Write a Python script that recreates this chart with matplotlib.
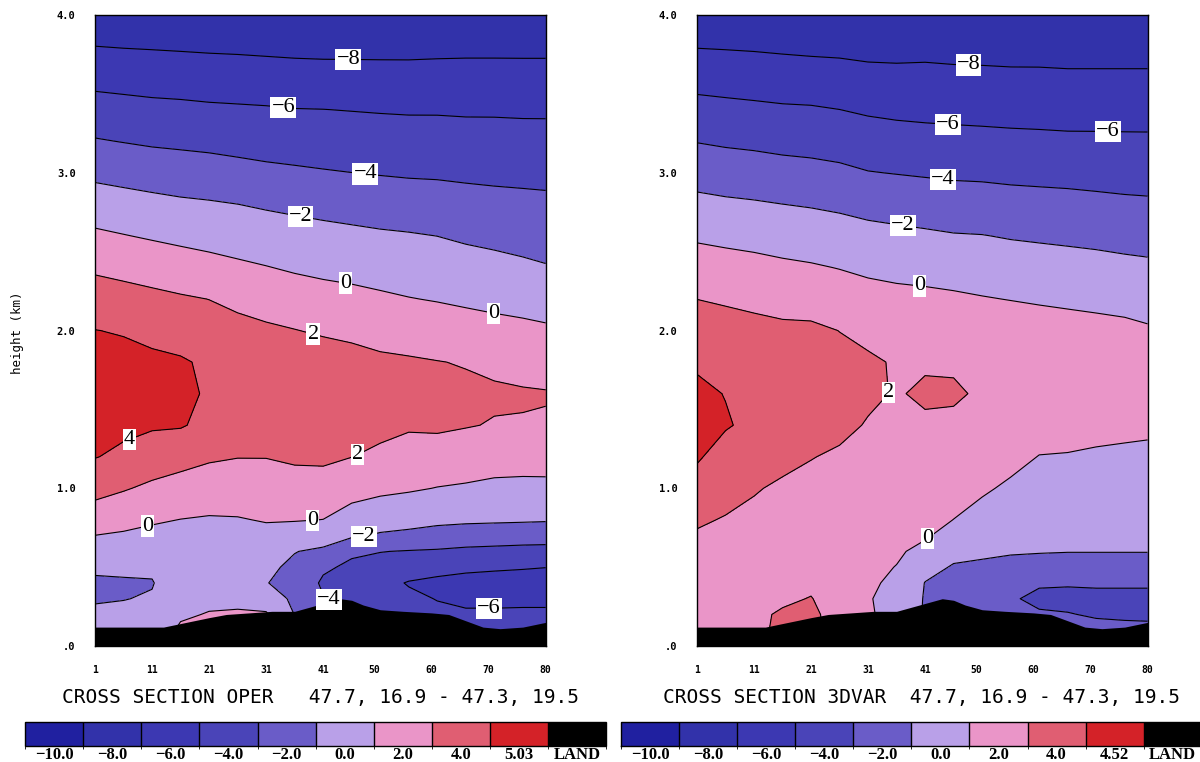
import numpy as np
import matplotlib
matplotlib.use('Agg')
import matplotlib.pyplot as plt
from matplotlib.colors import ListedColormap, BoundaryNorm
from matplotlib.cm import ScalarMappable

# grid of the cross section (grid point index, height in km)
cols = [1, 6, 11, 16, 21, 26, 31, 36, 41, 46, 51, 56, 61, 66, 71, 76, 80]
heights = [0.0, 0.1, 0.2, 0.3, 0.4, 0.5, 0.6, 0.7, 0.8, 1.0, 1.2, 1.4, 1.6,
           1.8, 2.0, 2.2, 2.4, 2.6, 2.8, 3.0, 3.2, 3.4, 3.6, 3.8, 4.0]

# terrain (LAND)
terrain_cols = [1, 8, 13, 17, 21, 24, 28, 32, 36, 39, 42, 44, 46, 48, 51,
                55, 60, 63, 66, 69, 72, 76, 80]
terrain_km = [0.12, 0.12, 0.12, 0.15, 0.18, 0.20, 0.21, 0.22, 0.22, 0.25,
              0.28, 0.30, 0.29, 0.26, 0.23, 0.22, 0.21, 0.20, 0.16, 0.12,
              0.11, 0.12, 0.15]

# field values, one vertical profile per grid column (bottom -> top)
oper_profiles = [
    [-1.0, -1.3, -1.7, -2.15, -2.3, -1.67, -0.83, -0.02, 0.95, 2.64, 4.07, 4.7, 5.03, 4.7, 4.03, 2.91, 1.72, 0.34, -1.03, -2.43, -3.86, -5.2, -6.57, -7.98, -9.4],
    [-1.0, -1.2, -1.6, -2.05, -2.2, -1.64, -0.93, -0.21, 0.56, 2.15, 3.63, 4.4, 4.8, 4.5, 3.88, 2.71, 1.45, 0.07, -1.27, -2.64, -4.06, -5.35, -6.69, -8.07, -9.5],
    [-1.0, -1.2, -1.5, -1.85, -2.1, -1.7, -1.07, -0.44, 0.21, 1.64, 3.07, 4.2, 4.5, 4.3, 3.6, 2.46, 1.17, -0.19, -1.48, -2.86, -4.25, -5.5, -6.8, -8.13, -9.5],
    [0.6, 0.3, -0.25, -0.6, -0.8, -0.85, -0.6, -0.3, -0.03, 1.31, 2.63, 4.15, 4.3, 4.2, 3.17, 2.2, 0.9, -0.44, -1.69, -3.03, -4.36, -5.58, -6.87, -8.2, -9.5],
    [0.8, 0.6, 0.1, -0.4, -0.6, -0.7, -0.6, -0.4, -0.15, 0.97, 2.25, 3.5, 3.85, 3.7, 2.8, 1.98, 0.62, -0.65, -1.82, -3.17, -4.48, -5.7, -6.97, -8.27, -9.6],
    [0.8, 0.7, 0.25, -0.5, -0.75, -0.8, -0.65, -0.4, -0.1, 0.94, 2.05, 2.9, 3.35, 3.2, 2.5, 1.61, 0.32, -0.86, -1.99, -3.38, -4.63, -5.77, -7.03, -8.32, -9.6],
    [0.7, 0.6, 0.2, -0.9, -1.95, -1.7, -1.1, -0.45, 0.1, 1.07, 2.05, 2.85, 3.3, 3.1, 2.28, 1.24, 0.06, -1.06, -2.21, -3.59, -4.76, -5.84, -7.1, -8.4, -9.7],
    [-1.8, -1.9, -2.05, -2.4, -2.5, -2.3, -1.95, -0.92, 0.1, 1.17, 2.3, 2.9, 3.25, 3.0, 2.05, 0.91, -0.21, -1.26, -2.4, -3.73, -4.86, -5.95, -7.19, -8.47, -9.7],
    [-3.5, -3.6, -3.7, -3.9, -4.3, -3.7, -2.3, -1.2, -0.02, 1.18, 2.35, 2.9, 3.2, 2.9, 1.78, 0.67, -0.41, -1.44, -2.58, -3.87, -4.95, -5.98, -7.25, -8.5, -9.7],
    [-4.4, -4.4, -4.4, -4.4, -4.4, -4.35, -3.7, -1.75, -0.8, 0.71, 2.02, 2.65, 2.95, 2.6, 1.61, 0.5, -0.56, -1.59, -2.75, -3.99, -5.03, -6.05, -7.27, -8.5, -9.7],
    [-4.8, -4.9, -5.0, -5.3, -5.5, -4.7, -3.95, -2.2, -1.2, 0.4, 1.7, 2.4, 2.65, 2.3, 1.39, 0.28, -0.75, -1.75, -2.91, -4.1, -5.1, -6.12, -7.3, -8.5, -9.7],
    [-5.0, -5.1, -5.3, -5.7, -6.1, -5.2, -4.1, -2.4, -1.4, 0.2, 1.3, 2.2, 2.5, 2.2, 1.17, 0.06, -0.9, -1.86, -3.03, -4.2, -5.17, -6.17, -7.31, -8.5, -9.7],
    [-5.2, -5.4, -5.7, -6.05, -6.4, -5.4, -4.2, -2.7, -1.6, -0.05, 1.15, 2.3, 2.5, 2.05, 0.97, -0.1, -1.05, -2.01, -3.14, -4.24, -5.19, -6.17, -7.28, -8.45, -9.6],
    [-5.5, -5.7, -5.8, -6.3, -6.5, -5.7, -4.4, -2.9, -1.7, -0.2, 1.0, 2.1, 2.35, 1.9, 0.76, -0.29, -1.27, -2.26, -3.32, -4.33, -5.26, -6.22, -7.3, -8.4, -9.6],
    [-5.5, -5.6, -5.8, -6.3, -6.6, -5.8, -4.5, -3.0, -1.75, -0.4, 0.8, 1.9, 2.25, 1.63, 0.58, -0.48, -1.45, -2.45, -3.45, -4.4, -5.29, -6.22, -7.3, -8.4, -9.6],
    [-5.5, -5.6, -5.8, -6.25, -6.6, -5.9, -4.6, -3.1, -1.8, -0.45, 0.75, 1.9, 2.15, 1.44, 0.41, -0.63, -1.68, -2.64, -3.55, -4.44, -5.33, -6.26, -7.32, -8.4, -9.6],
    [-5.5, -5.6, -5.8, -6.25, -6.6, -5.98, -4.6, -3.2, -1.85, -0.4, 0.7, 1.85, 2.1, 1.28, 0.26, -0.81, -1.89, -2.77, -3.62, -4.48, -5.35, -6.26, -7.32, -8.4, -9.6],
]

var_profiles = [
    [1.0, 1.05, 1.1, 1.2, 1.3, 1.45, 1.6, 1.85, 2.2, 3.3, 4.2, 4.52, 4.35, 3.78, 2.89, 1.99, 0.89, -0.25, -1.5, -2.77, -4.06, -5.35, -6.69, -8.07, -9.5],
    [1.0, 1.05, 1.1, 1.2, 1.3, 1.4, 1.5, 1.65, 1.9, 2.57, 3.29, 4.15, 3.95, 3.25, 2.58, 1.83, 0.72, -0.44, -1.69, -2.97, -4.25, -5.5, -6.8, -8.13, -9.5],
    [1.5, 1.6, 1.75, 1.6, 1.5, 1.45, 1.45, 1.55, 1.7, 2.1, 3.0, 3.6, 3.5, 3.0, 2.41, 1.67, 0.56, -0.61, -1.82, -3.1, -4.38, -5.63, -6.9, -8.2, -9.5],
    [2.4, 2.35, 2.15, 1.8, 1.55, 1.45, 1.4, 1.45, 1.5, 1.8, 2.35, 3.0, 3.2, 2.8, 2.28, 1.49, 0.34, -0.82, -1.99, -3.29, -4.55, -5.76, -7.03, -8.3, -9.6],
    [2.4, 2.4, 2.3, 2.05, 1.75, 1.4, 1.35, 1.35, 1.4, 1.6, 2.05, 2.7, 2.85, 2.5, 2.3, 1.31, 0.17, -0.97, -2.13, -3.42, -4.65, -5.82, -7.1, -8.4, -9.6],
    [1.4, 1.4, 1.4, 1.35, 1.3, 1.3, 1.3, 1.3, 1.35, 1.5, 1.8, 2.35, 2.6, 2.4, 1.98, 0.97, -0.06, -1.17, -2.32, -3.61, -4.82, -5.99, -7.21, -8.45, -9.7],
    [0.4, 0.3, 0.15, 0.08, 0.2, 0.45, 0.7, 0.9, 1.05, 1.35, 1.6, 1.9, 2.25, 2.25, 1.55, 0.64, -0.32, -1.41, -2.6, -3.93, -5.09, -6.23, -7.37, -8.6, -9.8],
    [-0.5, -0.5, -0.45, -0.4, -0.25, -0.05, 0.25, 0.5, 0.75, 1.15, 1.45, 1.7, 1.9, 1.85, 1.35, 0.48, -0.49, -1.57, -2.77, -4.06, -5.24, -6.38, -7.46, -8.6, -9.8],
    [-2.2, -2.2, -2.2, -2.15, -2.05, -1.4, -0.5, 0.2, 0.6, 1.1, 1.5, 1.8, 2.2, 1.85, 1.3, 0.4, -0.61, -1.72, -2.94, -4.18, -5.35, -6.46, -7.49, -8.5, -9.7],
    [-2.8, -2.8, -2.7, -2.6, -2.45, -2.15, -1.5, -0.7, -0.02, 0.8, 1.3, 1.7, 2.2, 1.8, 1.2, 0.28, -0.78, -1.89, -3.09, -4.29, -5.43, -6.51, -7.54, -8.6, -9.7],
    [-3.0, -3.0, -2.9, -2.8, -2.6, -2.25, -1.75, -1.2, -0.65, 0.25, 0.9, 1.45, 1.8, 1.7, 1.1, 0.1, -0.92, -1.95, -3.15, -4.34, -5.49, -6.56, -7.59, -8.6, -9.7],
    [-3.6, -3.7, -3.8, -3.9, -3.3, -2.5, -1.85, -1.4, -1.0, -0.3, 0.55, 1.25, 1.7, 1.6, 1.0, -0.05, -1.08, -2.12, -3.29, -4.44, -5.56, -6.62, -7.64, -8.65, -9.7],
    [-3.6, -3.7, -3.9, -4.2, -3.9, -2.7, -1.9, -1.5, -1.2, -0.6, -0.05, 0.8, 1.5, 1.45, 0.85, -0.2, -1.2, -2.23, -3.37, -4.5, -5.61, -6.65, -7.65, -8.65, -9.7],
    [-3.7, -3.8, -3.95, -4.3, -3.9, -2.8, -1.95, -1.6, -1.3, -0.7, -0.1, 0.65, 1.35, 1.35, 0.75, -0.35, -1.32, -2.33, -3.44, -4.56, -5.67, -6.7, -7.7, -8.7, -9.7],
    [-3.5, -3.7, -4.1, -4.4, -3.8, -2.8, -1.95, -1.65, -1.4, -0.85, -0.25, 0.55, 1.25, 1.25, 0.6, -0.48, -1.43, -2.44, -3.56, -4.63, -5.68, -6.7, -7.7, -8.7, -9.7],
    [-3.5, -3.75, -4.15, -4.4, -3.8, -2.8, -1.95, -1.7, -1.45, -0.95, -0.35, 0.45, 1.15, 1.1, 0.45, -0.62, -1.57, -2.59, -3.68, -4.7, -5.7, -6.7, -7.7, -8.7, -9.7],
    [-3.5, -3.8, -4.15, -4.4, -3.8, -2.8, -1.95, -1.75, -1.5, -1.0, -0.4, 0.35, 1.05, 1.0, 0.2, -0.74, -1.67, -2.68, -3.74, -4.73, -5.71, -6.7, -7.7, -8.7, -9.7],
]

fill_levels = [-12, -10, -8, -6, -4, -2, 0, 2, 4, 6]
line_levels = [-8, -6, -4, -2, 0, 2, 4]
fill_colors = ['#2020a0', '#3232aa', '#3c38b2', '#4a44b8', '#6a5cc8',
               '#b9a0e8', '#ea95c8', '#e05e72', '#d42228']
land_color = '#000000'

xtick_vals = [1, 11, 21, 31, 41, 50, 60, 70, 80]
ytick_vals = [0, 1, 2, 3, 4]
ytick_labels = ['.0', '1.0', '2.0', '3.0', '4.0']

titles = ['CROSS SECTION OPER   47.7, 16.9 - 47.3, 19.5',
          'CROSS SECTION 3DVAR  47.7, 16.9 - 47.3, 19.5']

# where the contour labels sit (grid column, km)
oper_label_pos = [(45.4, 3.72), (34.0, 3.42), (48.4, 3.00), (37.0, 2.72),
                  (44.9, 2.31), (70.9, 2.11), (39.1, 1.96), (7.1, 1.30),
                  (47.0, 1.21), (10.1, 0.77), (39.1, 0.79), (48.0, 0.72),
                  (42.3, 0.30), (70.0, 0.24)]
var_label_pos = [(48.6, 3.68), (45.0, 3.31), (73.0, 3.26), (44.1, 2.95),
                 (37.1, 2.67), (40.1, 2.30), (35.7, 1.61), (42.2, 0.64)]

mono = 'DejaVu Sans Mono'
serif = 'Liberation Serif'


def fmt_level(v):
    return f'{v:.0f}'.replace('-', '\u2212')


fig = plt.figure(figsize=(12, 7.62), dpi=100)

panels = [
    (oper_profiles, oper_label_pos, 0.0792, 0.021, 0.267),
    (var_profiles, var_label_pos, 0.5808, 0.5175, 0.768),
]

for i, (profiles, label_pos, ax_left, cb_left, title_x) in enumerate(panels):
    z = np.array(profiles).T
    ax = fig.add_axes([ax_left, 0.1522, 0.3755, 0.828])
    ax.contourf(cols, heights, z, levels=fill_levels, colors=fill_colors, zorder=1)
    cs = ax.contour(cols, heights, z, levels=line_levels, colors='black',
                    linewidths=0.8, linestyles='solid', zorder=2)
    ax.fill_between(terrain_cols, 0, terrain_km, color=land_color, lw=0, zorder=3)
    texts = ax.clabel(cs, inline=False, manual=label_pos, fmt=fmt_level,
                      fontsize=16, colors='black')
    for t in texts:
        t.set_rotation(0)
        t.set_family(serif)
        t.set_zorder(5)
        t.set_bbox(dict(facecolor='white', edgecolor='none', pad=0.8))

    ax.set_xlim(1, 80)
    ax.set_ylim(0, 4)
    ax.set_xticks(xtick_vals)
    ax.set_xticklabels([str(v) for v in xtick_vals], family=mono,
                       fontsize=7, fontweight='bold')
    ax.set_yticks(ytick_vals)
    ax.set_yticklabels(ytick_labels, family=mono, fontsize=7.5, fontweight='bold')
    ax.tick_params(axis='x', length=0, pad=14)
    ax.tick_params(axis='y', length=0, pad=14)
    for sp in ax.spines.values():
        sp.set_linewidth(1.0)

    fig.text(title_x, 0.085, titles[i], ha='center', va='center',
             family=mono, fontsize=14)

    zmax = z.max()
    cb_labels = [f'{v:.1f}'.replace('-', '\u2212') for v in fill_levels[1:-1]]
    cb_labels += [f'{zmax:.2f}', 'LAND']
    cmap = ListedColormap(fill_colors + [land_color])
    norm = BoundaryNorm(np.arange(11), 10)
    cax = fig.add_axes([cb_left, 0.021, 0.484, 0.0315])
    cb = fig.colorbar(ScalarMappable(norm=norm, cmap=cmap), cax=cax,
                      orientation='horizontal', drawedges=True)
    cb.set_ticks(np.arange(10) + 0.5)
    cb.set_ticklabels(cb_labels)
    cb.ax.tick_params(length=0, pad=1)
    for lab in cb.ax.get_xticklabels():
        lab.set_family(serif)
        lab.set_fontsize(12)
        lab.set_fontweight('bold')
    cb.outline.set_linewidth(1.0)
    cb.dividers.set_color('black')
    cb.dividers.set_linewidth(1.0)

fig.text(0.015, 0.563, 'height (km)', rotation=90, ha='center', va='center',
         family=mono, fontsize=9)

fig.savefig('out.png', dpi=100, facecolor='white')
